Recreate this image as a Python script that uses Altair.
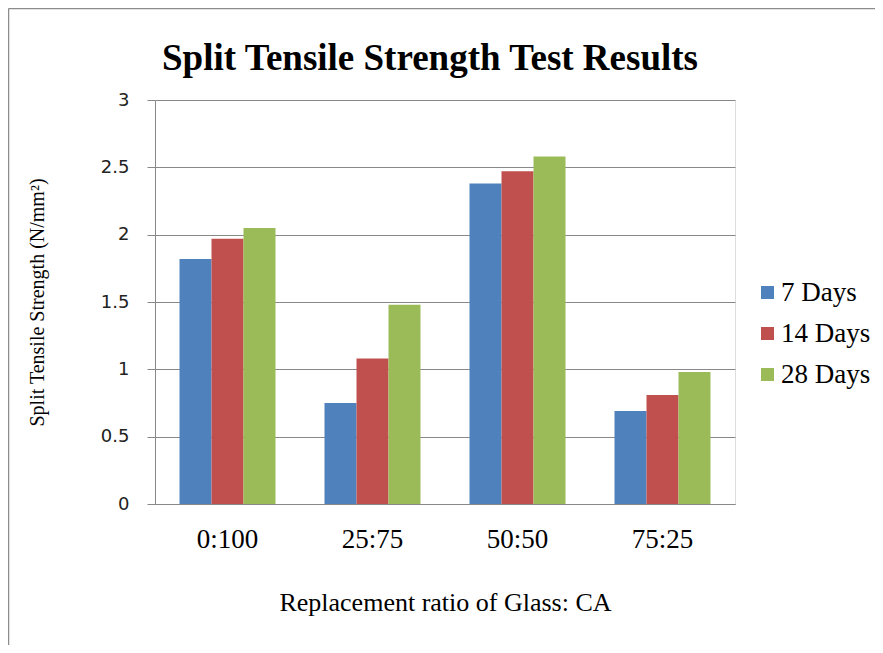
import altair as alt
import pandas as pd

categories = ["0:100", "25:75", "50:50", "75:25"]
series = ["7 Days", "14 Days", "28 Days"]
days7 = [1.82, 0.75, 2.38, 0.69]
days14 = [1.97, 1.08, 2.47, 0.81]
days28 = [2.05, 1.48, 2.58, 0.98]
colors = ["#4F81BD", "#C0504D", "#9BBB59"]
title_text = "Split Tensile Strength Test Results"

rows = []
for name, vals in zip(series, [days7, days14, days28]):
    for c, v in zip(categories, vals):
        rows.append({"ratio": c, "series": name, "value": v})
df = pd.DataFrame(rows)

SERIF = "Liberation Serif"
SANS = "DejaVu Sans"

bars = alt.Chart(df).mark_bar().encode(
    x=alt.X("ratio:N", sort=categories,
            scale=alt.Scale(paddingInner=0.338, paddingOuter=0.169),
            axis=alt.Axis(title="Replacement ratio of Glass: CA", labelAngle=0,
                          ticks=False, labelPadding=22, titlePadding=37,
                          labelFont=SERIF, labelFontSize=27, labelColor="#000",
                          titleFont=SERIF, titleFontSize=26, titleFontWeight="normal",
                          titleColor="#000", domainColor="#888888", grid=False)),
    xOffset=alt.XOffset("series:N", sort=series, scale=alt.Scale(paddingInner=0, paddingOuter=0)),
    y=alt.Y("value:Q", scale=alt.Scale(domain=[0, 3], nice=False),
            axis=alt.Axis(title="Split Tensile Strength (N/mm²)", values=[0, 0.5, 1, 1.5, 2, 2.5, 3],
                          format="~g", tickSize=8, tickColor="#888888", labelPadding=18,
                          labelFont=SANS, labelFontSize=18, labelColor="#222",
                          titleFont=SERIF, titleFontSize=20, titleFontWeight="normal",
                          titleColor="#000", titlePadding=53,
                          grid=True, gridColor="#888888", gridWidth=1,
                          domainColor="#888888")),
    color=alt.Color("series:N", sort=series,
                    scale=alt.Scale(domain=series, range=colors),
                    legend=alt.Legend(title=None, orient="none", legendX=599, legendY=179,
                                      symbolType="square", symbolSize=169, symbolStrokeWidth=0,
                                      labelFont=SERIF, labelFontSize=27, labelColor="#000",
                                      rowPadding=13, labelOffset=0)),
)

one = alt.Data(values=[{"a": 1}])
title_mark = alt.Chart(one).mark_text(
    text=title_text, font=SERIF, fontSize=37, fontWeight="bold", color="#000",
    align="center", baseline="alphabetic").encode(x=alt.value(275), y=alt.value(-30))
left_line = alt.Chart(one).mark_rule(color="#8c8c8c", strokeWidth=1.5).encode(
    x=alt.value(-146.5), y=alt.value(-91.5), y2=alt.value(545))
top_line = alt.Chart(one).mark_rule(color="#8c8c8c", strokeWidth=1.5).encode(
    x=alt.value(-146.5), x2=alt.value(730), y=alt.value(-91.5))

chart = alt.layer(bars, title_mark, left_line, top_line).properties(
    width=580, height=404,
    autosize=alt.AutoSizeParams(type="none"),
    padding={"left": 147, "top": 92, "right": 140, "bottom": 141},
).configure_view(stroke=None).configure(background="white")

chart.save("out.html", embed_options={"renderer": "svg", "actions": False})
